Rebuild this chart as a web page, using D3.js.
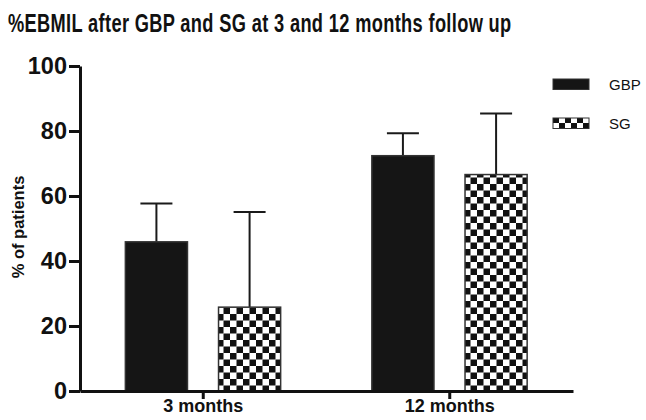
<!DOCTYPE html>
<html><head><meta charset="utf-8">
<script src="https://cdn.jsdelivr.net/npm/d3@7"></script>
<style>body{margin:0;background:#fff}svg{display:block}text{font-family:"Liberation Sans",Arial,sans-serif}</style>
</head><body>
<script>
const categories = ["3 months", "12 months"];
const seriesNames = ["GBP", "SG"];
const gbpMeans = [45.9, 72.4];
const gbpErrors = [11.8, 6.9];
const sgMeans = [25.8, 66.6];
const sgErrors = [29.3, 18.8];
const yTicks = [0, 20, 40, 60, 80, 100];

const W = 646, H = 420;
const svg = d3.select("body").append("svg").attr("width", W).attr("height", H);
svg.append("rect").attr("width", W).attr("height", H).attr("fill", "#fff");

const defs = svg.append("defs");
const pat = defs.append("pattern").attr("id", "checker").attr("patternUnits", "userSpaceOnUse")
  .attr("width", 13).attr("height", 13).attr("x", 217).attr("y", 2);
pat.append("rect").attr("width", 13).attr("height", 13).attr("fill", "#fff");
pat.append("rect").attr("width", 6.5).attr("height", 6.5).attr("fill", "#111");
pat.append("rect").attr("x", 6.5).attr("y", 6.5).attr("width", 6.5).attr("height", 6.5).attr("fill", "#111");
const pat2 = defs.append("pattern").attr("id", "checkerLeg").attr("patternUnits", "userSpaceOnUse")
  .attr("width", 12).attr("height", 10).attr("x", 553).attr("y", 118);
pat2.append("rect").attr("width", 12).attr("height", 10).attr("fill", "#fff");
pat2.append("rect").attr("width", 6).attr("height", 5).attr("fill", "#111");
pat2.append("rect").attr("x", 6).attr("y", 5).attr("width", 6).attr("height", 5).attr("fill", "#111");

const x0 = d3.scaleBand().domain(categories).range([80, 573]).padding(0);
const x1 = d3.scaleBand().domain(seriesNames)
  .range([x0.bandwidth() * 0.184, x0.bandwidth() * 0.814]).paddingInner(1/3).paddingOuter(0);
const y = d3.scaleLinear().domain([0, 100]).range([391, 66]);

const data = [];
categories.forEach((c, i) => {
  data.push({cat: c, s: "GBP", v: gbpMeans[i], e: gbpErrors[i]});
  data.push({cat: c, s: "SG", v: sgMeans[i], e: sgErrors[i]});
});

const g = svg.append("g");
// error bars
const eb = g.selectAll(".eb").data(data).enter().append("g").attr("class", "eb")
  .attr("stroke", "#1a1a1a").attr("stroke-width", 2);
eb.append("line")
  .attr("x1", d => x0(d.cat) + x1(d.s) + x1.bandwidth() / 2)
  .attr("x2", d => x0(d.cat) + x1(d.s) + x1.bandwidth() / 2)
  .attr("y1", d => y(d.v)).attr("y2", d => y(d.v + d.e));
eb.append("line")
  .attr("x1", d => x0(d.cat) + x1(d.s) + x1.bandwidth() / 2 - 16)
  .attr("x2", d => x0(d.cat) + x1(d.s) + x1.bandwidth() / 2 + 16)
  .attr("y1", d => y(d.v + d.e)).attr("y2", d => y(d.v + d.e));

// bars
g.selectAll(".bar").data(data).enter().append("rect").attr("class", "bar")
  .attr("x", d => x0(d.cat) + x1(d.s))
  .attr("width", x1.bandwidth())
  .attr("y", d => y(d.v))
  .attr("height", d => y(0) - y(d.v))
  .attr("fill", d => d.s === "GBP" ? "#151515" : "url(#checker)")
  .attr("stroke", "#333").attr("stroke-width", 1.5);

// axes
const yAxis = svg.append("g").attr("transform", "translate(80,0)")
  .call(d3.axisLeft(y).tickValues(yTicks).tickSize(11).tickSizeOuter(0).tickPadding(2));
yAxis.select(".domain").attr("stroke", "#111").attr("stroke-width", 3);
yAxis.selectAll(".tick line").attr("stroke", "#111").attr("stroke-width", 3);
yAxis.selectAll(".tick text").attr("font-size", 23.5).attr("font-weight", "bold").attr("fill", "#111")
  .attr("font-family", "'Liberation Sans', Arial, sans-serif");

const xAxis = svg.append("g").attr("transform", "translate(0,391)")
  .call(d3.axisBottom(x0).tickSize(8).tickSizeOuter(0).tickPadding(4));
xAxis.select(".domain").attr("stroke", "#111").attr("stroke-width", 3);
xAxis.selectAll(".tick line").attr("stroke", "#111").attr("stroke-width", 3);
xAxis.selectAll(".tick text").attr("font-size", 18).attr("font-weight", "bold").attr("fill", "#111")
  .attr("font-family", "'Liberation Sans', Arial, sans-serif").attr("y", 21).attr("dy", 0);

// y label
svg.append("text").attr("transform", "translate(24,227) rotate(-90)")
  .attr("text-anchor", "middle").attr("font-size", 16.5).attr("font-weight", "bold").attr("fill", "#111")
  .text("% of patients");

// title (horizontally condensed like the reference)
const title = svg.append("text").attr("x", 0).attr("y", 0).attr("font-size", 26).attr("font-weight", "bold")
  .attr("fill", "#111").attr("letter-spacing", 0.5)
  .text("%EBMIL after GBP and SG at 3 and 12 months follow up");
const tw = title.node().getComputedTextLength();
const sx = 504 / tw;
title.attr("transform", `translate(8,32) scale(${sx},1)`);

// legend
const leg = svg.append("g");
const legY = [79, 118];
seriesNames.forEach((s, i) => {
  leg.append("rect").attr("x", 553).attr("y", legY[i]).attr("width", 36).attr("height", 10.5)
    .attr("fill", i === 0 ? "#151515" : "url(#checkerLeg)").attr("stroke", "#333").attr("stroke-width", 1);
  leg.append("text").attr("x", 609).attr("y", legY[i] + 11).attr("font-size", 15).attr("fill", "#111").text(s);
});
</script>
</body></html>
